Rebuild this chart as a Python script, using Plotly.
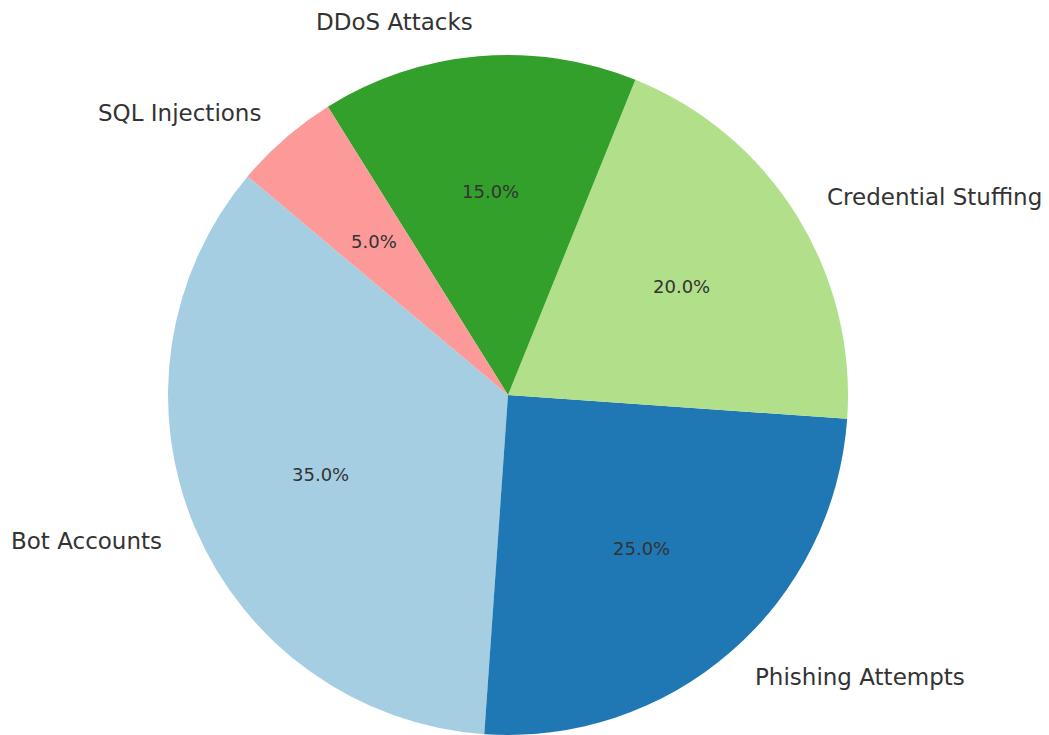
import numpy as np
import plotly.graph_objects as go

# Share of detected threat types
categories = ["Bot Accounts", "Phishing Attempts", "Credential Stuffing", "DDoS Attacks", "SQL Injections"]
shares = [35, 25, 20, 15, 5]
colors = ["#a6cee3", "#1f78b4", "#b2df8a", "#33a02c", "#fb9a99"]

START_ANGLE = 140.0      # degrees, counterclockwise from 3 o'clock
LABEL_DIST = 1.1         # label radius as a fraction of the pie radius
PCT_DIST = 0.6           # percentage radius as a fraction of the pie radius
FONT = "DejaVu Sans"
TEXT_COLOR = "#333333"

vals = np.array(shares, dtype=float)
fracs = vals / vals.sum()

# In counterclockwise mode Plotly's `rotation` marks where the first slice ends
# (measured clockwise from 12 o'clock), so shift by the first slice's sweep.
first_end = START_ANGLE + fracs[0] * 360.0
rotation = 90.0 - first_end

fig = go.Figure(
    go.Pie(
        labels=categories,
        values=shares,
        sort=False,
        direction="counterclockwise",
        rotation=rotation,
        marker=dict(colors=colors, line=dict(width=0)),
        textinfo="none",
        showlegend=False,
        domain=dict(x=[0, 1], y=[0, 1]),
    )
)

# Slice mid-angles, used to place category names and percentages
ends = START_ANGLE + np.cumsum(fracs) * 360.0
mids = np.deg2rad(ends - fracs * 360.0 / 2.0)

annotations = []
for name, frac, theta in zip(categories, fracs, mids):
    c, s = np.cos(theta), np.sin(theta)
    annotations.append(dict(
        x=0.5 + 0.5 * LABEL_DIST * c, y=0.5 + 0.5 * LABEL_DIST * s,
        xref="paper", yref="paper", text=name, showarrow=False,
        xanchor="left" if c > 0 else "right", yanchor="middle",
        font=dict(family=FONT, size=23, color=TEXT_COLOR),
    ))
    annotations.append(dict(
        x=0.5 + 0.5 * PCT_DIST * c, y=0.5 + 0.5 * PCT_DIST * s,
        xref="paper", yref="paper", text=f"{frac * 100:.1f}%", showarrow=False,
        xanchor="center", yanchor="middle",
        font=dict(family=FONT, size=18, color=TEXT_COLOR),
    ))

fig.update_layout(
    width=1049,
    height=735,
    margin=dict(l=168, r=201, t=55, b=0),
    paper_bgcolor="white",
    plot_bgcolor="white",
    annotations=annotations,
    font=dict(family=FONT),
)

fig.write_html("out.html")
